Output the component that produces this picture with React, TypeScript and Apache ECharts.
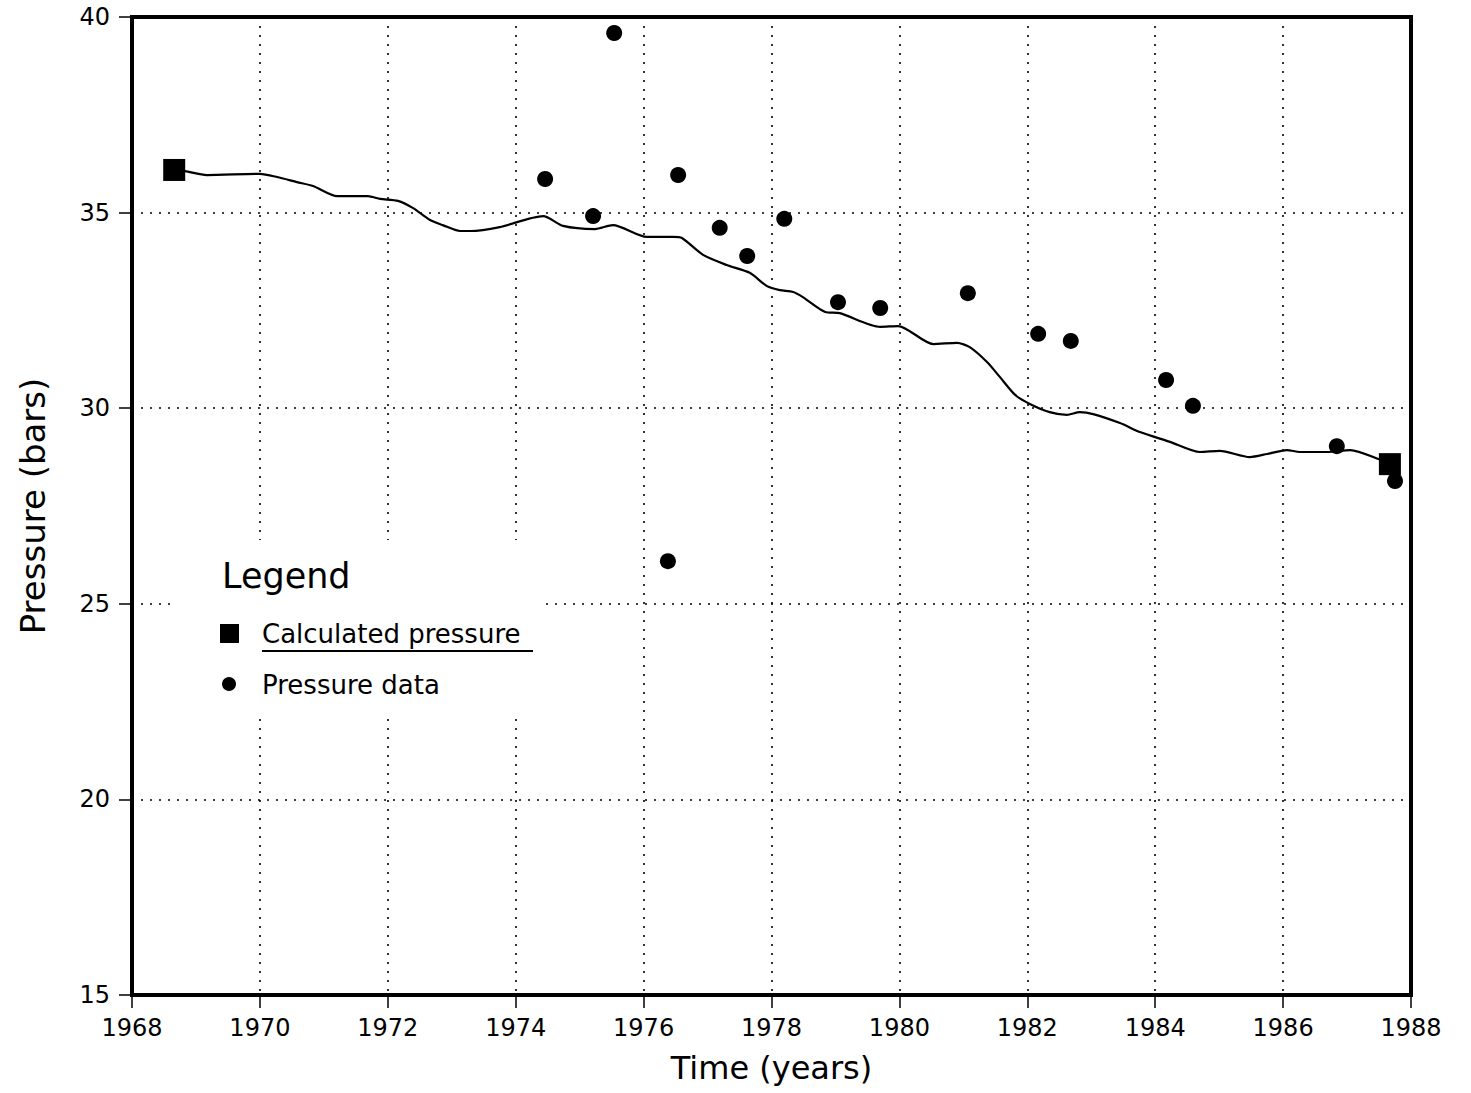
import React, { useEffect, useRef } from "react";
import * as echarts from "echarts";

const calcYears = [1968.66, 1968.83, 1969.17, 1970.0, 1970.27, 1970.58, 1970.83, 1971.21, 1971.69, 1971.88, 1972.16, 1972.39, 1972.66, 1972.86, 1973.13, 1973.29, 1973.75, 1974.43, 1974.74, 1975.24, 1975.52, 1976.05, 1976.46, 1976.6, 1976.93, 1977.3, 1977.66, 1977.93, 1978.13, 1978.34, 1978.49, 1978.84, 1979.07, 1979.7, 1979.98, 1980.53, 1980.9, 1981.1, 1981.37, 1981.57, 1981.81, 1982.04, 1982.35, 1982.62, 1982.82, 1983.03, 1983.45, 1983.76, 1984.23, 1984.7, 1985.01, 1985.48, 1985.75, 1986.06, 1986.26, 1986.69, 1987.05, 1987.52, 1987.67];
const calcPressure = [36.09, 36.06, 35.96, 35.99, 35.91, 35.78, 35.68, 35.42, 35.42, 35.35, 35.3, 35.12, 34.81, 34.68, 34.53, 34.53, 34.63, 34.91, 34.66, 34.58, 34.68, 34.38, 34.38, 34.35, 33.92, 33.66, 33.46, 33.12, 33.02, 32.97, 32.84, 32.46, 32.43, 32.08, 32.1, 31.64, 31.67, 31.56, 31.18, 30.8, 30.34, 30.11, 29.9, 29.83, 29.9, 29.85, 29.62, 29.39, 29.14, 28.88, 28.91, 28.75, 28.83, 28.93, 28.88, 28.88, 28.93, 28.68, 28.57];

const markerYears = [1968.66, 1987.67];
const markerPressure = [36.09, 28.57];

const dataYears = [1974.46, 1975.21, 1975.54, 1976.38, 1976.54, 1977.19, 1977.62, 1978.2, 1979.04, 1979.7, 1981.07, 1982.17, 1982.68, 1984.17, 1984.59, 1986.84, 1987.75];
const dataPressure = [35.86, 34.91, 39.59, 26.09, 35.96, 34.61, 33.89, 34.84, 32.71, 32.56, 32.94, 31.9, 31.72, 30.72, 30.06, 29.03, 28.14];

const FONT = "'DejaVu Sans', sans-serif";

export default function App() {
  const ref = useRef<HTMLDivElement>(null);
  useEffect(() => {
    document.body.style.margin = "0";
    const chart = echarts.init(ref.current!, undefined, { renderer: "svg" });
    const zip = (a: number[], b: number[]) => a.map((v, i) => [v, b[i]]);
    chart.setOption({
      animation: false,
      backgroundColor: "#fff",
      grid: {
        left: 132,
        top: 17,
        width: 1279,
        height: 978,
        show: true,
        borderColor: "#000",
        borderWidth: 4,
        backgroundColor: "transparent",
      },
      xAxis: {
        type: "value",
        min: 1968,
        max: 1988,
        interval: 2,
        name: "Time (years)",
        nameLocation: "middle",
        nameGap: 57,
        nameTextStyle: { fontFamily: FONT, fontSize: 32, color: "#000" },
        axisLine: { show: true, lineStyle: { color: "#000", width: 4 } },
        axisTick: { show: true, length: 13, lineStyle: { color: "#000", width: 1.5 } },
        axisLabel: { fontFamily: FONT, fontSize: 24, color: "#000", margin: 21, formatter: (v: number) => String(v) },
        splitLine: { show: true, lineStyle: { color: "#000", width: 1.6, type: [2, 7] } },
      },
      yAxis: {
        type: "value",
        min: 15,
        max: 40,
        interval: 5,
        name: "Pressure (bars)",
        nameLocation: "middle",
        nameGap: 82,
        nameRotate: 90,
        nameTextStyle: { fontFamily: FONT, fontSize: 34, color: "#000" },
        axisLine: { show: true, lineStyle: { color: "#000", width: 4 } },
        axisTick: { show: true, length: 13, lineStyle: { color: "#000", width: 1.5 } },
        axisLabel: { fontFamily: FONT, fontSize: 24, color: "#000", margin: 22 },
        splitLine: { show: true, lineStyle: { color: "#000", width: 1.6, type: [2, 7] } },
      },
      graphic: [
        { type: "rect", z: 5, shape: { x: 170, y: 540, width: 376, height: 172 }, style: { fill: "#fff" } },
        { type: "text", z: 6, x: 222, y: 576, style: { text: "Legend", fontFamily: FONT, fontSize: 35, fill: "#000", verticalAlign: "middle" } },
        { type: "rect", z: 6, shape: { x: 220, y: 624, width: 19, height: 19 }, style: { fill: "#000" } },
        { type: "text", z: 6, x: 262, y: 634, style: { text: "Calculated pressure", fontFamily: FONT, fontSize: 26, fill: "#000", verticalAlign: "middle" } },
        { type: "line", z: 6, shape: { x1: 262, y1: 651, x2: 533, y2: 651 }, style: { stroke: "#000", lineWidth: 2 } },
        { type: "circle", z: 6, shape: { cx: 229, cy: 684, r: 7 }, style: { fill: "#000" } },
        { type: "text", z: 6, x: 262, y: 685, style: { text: "Pressure data", fontFamily: FONT, fontSize: 26, fill: "#000", verticalAlign: "middle" } },
      ],
      series: [
        {
          name: "Calculated pressure",
          type: "line",
          data: zip(calcYears, calcPressure),
          showSymbol: false,
          symbol: "none",
          smooth: 0.25,
          lineStyle: { color: "#000", width: 2.2 },
          z: 10,
        },
        {
          name: "Calculated pressure markers",
          type: "scatter",
          data: zip(markerYears, markerPressure),
          symbol: "rect",
          symbolSize: 22,
          itemStyle: { color: "#000", opacity: 1 },
          z: 11,
        },
        {
          name: "Pressure data",
          type: "scatter",
          data: zip(dataYears, dataPressure),
          symbol: "circle",
          symbolSize: 16,
          itemStyle: { color: "#000", opacity: 1 },
          z: 12,
        },
      ],
    });
    return () => chart.dispose();
  }, []);
  return <div ref={ref} style={{ width: 1471, height: 1093 }} />;
}
